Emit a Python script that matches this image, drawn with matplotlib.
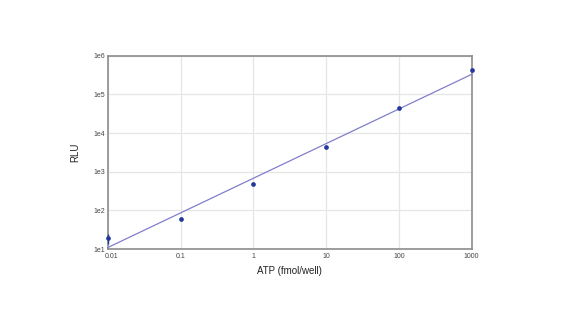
import numpy as np
import matplotlib
matplotlib.use("Agg")
import matplotlib.pyplot as plt
from matplotlib.ticker import FixedLocator, FixedFormatter
import matplotlib.transforms as mtransforms

plt.rcParams['font.family'] = ['Liberation Sans', 'DejaVu Sans']

atp = [0.01, 0.1, 1, 10, 100, 1000]
rlu = [19, 59, 480, 4470, 44700, 428000]
err_low = [5.5, 0, 0, 0, 0, 0]
err_high = [5.5, 0, 0, 0, 0, 0]
x_ticks = [0.01, 0.1, 1, 10, 100, 1000]
x_tick_labels = ["0.01", "0.1", "1", "10", "100", "1000"]
y_ticks = [1e1, 1e2, 1e3, 1e4, 1e5, 1e6]
y_tick_labels = ["1e1", "1e2", "1e3", "1e4", "1e5", "1e6"]

fig = plt.figure(figsize=(5.67, 3.24), dpi=100)
ax = fig.add_axes([107.7/567, 1-249/324, (471.7-107.7)/567, (249-55.7)/324])

ax.set_xscale('log')
ax.set_yscale('log')
ax.set_xlim(0.01, 1000)
ax.set_ylim(10, 1e6)

# fit line in log-log space
coef = np.polyfit(np.log10(atp), np.log10(rlu), 1)
fx = np.array([atp[0], atp[-1]])
fy = 10 ** np.polyval(coef, np.log10(fx))
ax.plot(fx, fy, color='#7f7fcc', lw=0.9, zorder=3, clip_on=False)

eb = ax.errorbar(atp, rlu, yerr=[err_low, err_high], fmt='o', color='#23389a',
                 ms=3.4, mew=0, elinewidth=1.0, capsize=3, capthick=1.0, zorder=4)
data_line, caplines, barcols = eb
data_line.set_clip_on(False)
for c in caplines:
    c.set_clip_on(False)
    c.set_zorder(5)
for b in barcols:
    b.set_clip_on(False)
    b.set_zorder(5)

ax.xaxis.set_major_locator(FixedLocator(x_ticks))
ax.xaxis.set_major_formatter(FixedFormatter(x_tick_labels))
ax.yaxis.set_major_locator(FixedLocator(y_ticks))
ax.yaxis.set_major_formatter(FixedFormatter(y_tick_labels))
ax.minorticks_off()
ax.tick_params(axis='both', length=0, labelsize=5, colors='#444444', pad=3)
ax.tick_params(axis='y', pad=2)

ax.grid(True, color='#e6e6e6', lw=0.9)
ax.set_axisbelow(True)
for s in ax.spines.values():
    s.set_color('#8c8c8c')
    s.set_linewidth(1.2)
    s.set_zorder(2)

# shift first x label right so it sits like the reference
lbl = ax.get_xticklabels()[0]
offset = mtransforms.ScaledTranslation(4/100, 0, fig.dpi_scale_trans)
lbl.set_transform(lbl.get_transform() + offset)

ax.set_xlabel("ATP (fmol/well)", fontsize=7, color='#222222', labelpad=4)
ax.set_ylabel("RLU", fontsize=7, color='#222222', labelpad=9)

fig.savefig("out.png", dpi=100, facecolor='white')
